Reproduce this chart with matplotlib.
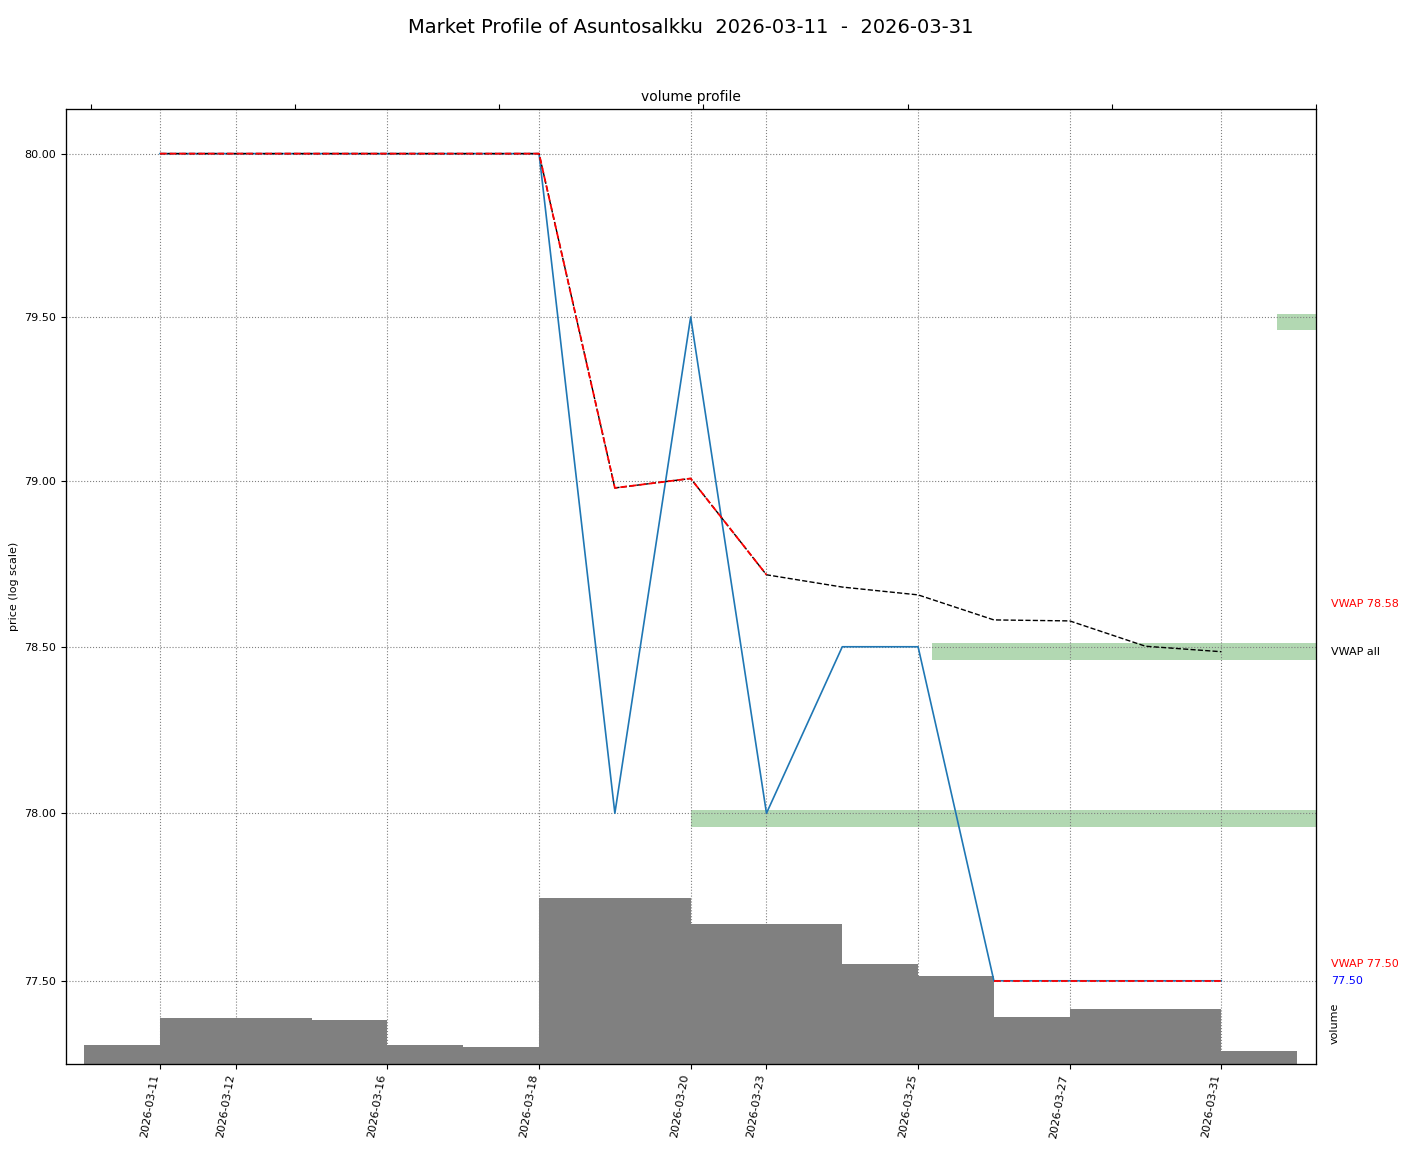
import matplotlib
matplotlib.use('Agg')
import matplotlib.pyplot as plt
import numpy as np
import pandas as pd

dates = ['2026-03-11', '2026-03-12', '2026-03-13', '2026-03-16', '2026-03-17',
         '2026-03-18', '2026-03-19', '2026-03-20', '2026-03-23', '2026-03-24',
         '2026-03-25', '2026-03-26', '2026-03-27', '2026-03-30', '2026-03-31']
close = [80.0, 80.0, 80.0, 80.0, 80.0, 80.0, 78.0, 79.5, 78.0, 78.5,
         78.5, 77.5, 77.5, 77.5, 77.5]
volume = [1900, 4600, 4400, 1900, 1700, 1450, 16600, 1900, 14000, 10000,
          8800, 4700, 200, 5500, 1300]
tick_dates = ['2026-03-11', '2026-03-12', '2026-03-16', '2026-03-18', '2026-03-20',
              '2026-03-23', '2026-03-25', '2026-03-27', '2026-03-31']
red_from, red_to = 0, 8          # first red vwap segment (day index)
anchor2 = 11                     # second red vwap anchored here
prof_from, prof_to = 6, 10       # days in the volume profile
vwap_marks = [78.58, 77.50]
yticks = [77.5, 78.0, 78.5, 79.0, 79.5, 80.0]

x = np.arange(len(dates))
close = np.array(close)
volume = np.array(volume, dtype=float)
vwap_all = np.cumsum(close * volume) / np.cumsum(volume)
vwap2 = np.cumsum(close[anchor2:] * volume[anchor2:]) / np.cumsum(volume[anchor2:])

df = pd.DataFrame({'price': close, 'vol': volume}).iloc[prof_from:prof_to + 1]
profile = df.groupby('price')['vol'].sum()

fig = plt.figure(figsize=(14.08, 11.49), dpi=100)
ax = fig.add_axes([0.0469, 0.0740, 0.8878, 0.8311])
ax_vol = ax.twinx()
ax_prof = ax.twiny()

ax_vol.set_zorder(0)
ax_prof.set_zorder(1)
ax.set_zorder(2)
ax.patch.set_visible(False)
ax_prof.patch.set_visible(False)

# volume bars
ax_vol.bar(x, volume, width=2, color='gray')
ax_vol.set_ylim(0, volume.max() * 5.75)
ax_vol.set_yticks([])
ax_vol.text(1.015, 0.021, 'volume', transform=ax_vol.transAxes, rotation=90,
            ha='center', va='bottom', fontsize=8)

# volume profile (bins sit a touch below the price level)
ax_prof.barh(profile.index - 0.015, profile.values, height=0.05, color='green', alpha=0.3)
ax_prof.set_xlim(profile.max() * 2, 0)
ax_prof.tick_params(axis='x', labeltop=False)
ax_prof.set_title('volume profile', fontsize=10)

# price + vwap
ax.plot(x, close, color='#1f77b4', lw=1.2)
ax.plot(x, vwap_all, 'k--', lw=1)
ax.plot(x[red_from:red_to + 1], vwap_all[red_from:red_to + 1], 'r--', lw=1.3)
ax.plot(x[anchor2:], vwap2, 'r--', lw=1.3)

ax.set_yscale('log')
ax.set_ylim(77.253, 80.137)
ax.set_yticks(yticks)
ax.set_yticklabels(['%.2f' % v for v in yticks], fontsize=8)
ax.yaxis.set_minor_locator(matplotlib.ticker.NullLocator())
ax.set_ylabel('price (log scale)', fontsize=8)

ax.set_xlim(-1.24, 15.25)
ax.set_xticks([dates.index(d) for d in tick_dates])
ax.set_xticklabels(tick_dates, rotation=80, ha='right', fontsize=8)
ax.grid(True, linestyle=':', color='gray')

tr = ax.get_yaxis_transform()
ax.text(1.012, vwap_marks[0] + 0.05, 'VWAP %.2f' % vwap_marks[0], color='red',
        transform=tr, va='center', fontsize=8)
ax.text(1.012, vwap_all[-1], 'VWAP all', color='black', transform=tr, va='center', fontsize=8)
ax.text(1.012, vwap_marks[1] + 0.05, 'VWAP %.2f' % vwap_marks[1], color='red',
        transform=tr, va='center', fontsize=8)
ax.text(1.012, close[-1], '%.2f' % close[-1], color='blue', transform=tr, va='center', fontsize=8)

ax.text(0.698, 0.024, '\u00a9 2026-03-31 Stox.fi', transform=ax.transAxes, ha='center',
        va='center', fontsize=8, color='gray', alpha=0.6)

fig.suptitle('Market Profile of Asuntosalkku  2026-03-11  -  2026-03-31', fontsize=14,
             x=0.4908, y=0.984)

plt.savefig('out.png')
